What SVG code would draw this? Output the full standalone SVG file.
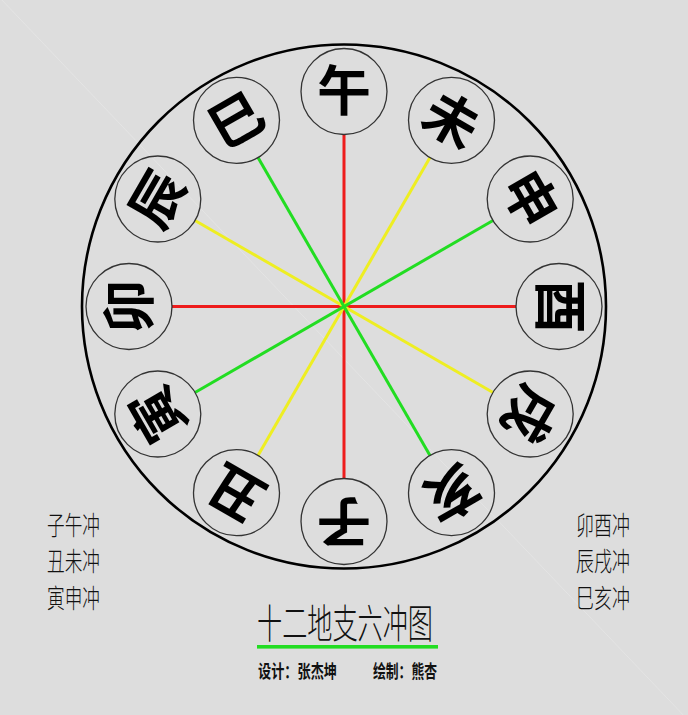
<svg xmlns="http://www.w3.org/2000/svg" width="688" height="715" viewBox="0 0 688 715">
<style>
.bg{fill:#dddddd}
.ring{fill:none;stroke:#000;stroke-width:2.6}
.node circle{fill:none;stroke:#333;stroke-width:1.3}
.node text{font-family:"Noto Sans CJK SC","Noto Sans CJK JP",sans-serif;font-size:54px;font-weight:700;fill:#000;text-anchor:middle;dominant-baseline:central}
.conn line{stroke-width:3;stroke-linecap:butt}
.red{stroke:#ee1c1c}
.yel{stroke:#eeee22}
.grn{stroke:#22dd22}
.lbl{font-family:"Noto Sans CJK SC","Noto Sans CJK JP",sans-serif;font-size:26px;font-weight:300;fill:#111;dominant-baseline:central}
.title{font-family:"Noto Sans CJK SC","Noto Sans CJK JP",sans-serif;font-size:40px;font-weight:300;fill:#111;dominant-baseline:central}
.sub{font-family:"Noto Sans CJK SC","Noto Sans CJK JP",sans-serif;font-size:18px;font-weight:700;fill:#111;dominant-baseline:central}
</style>
<rect class="bg" x="0" y="0" width="688" height="715"/>
<line x1="0" y1="-2" x2="688" y2="720" stroke="#ffffff" stroke-opacity="0.35" stroke-width="0.6"/>
<circle class="ring" cx="344" cy="306.5" r="262"/>
<g id="connectors" class="conn">
<line class="red" x1="344" y1="134.5" x2="344" y2="478.5"/>
<line class="red" x1="516" y1="306.5" x2="172" y2="306.5"/>
<line class="yel" x1="430" y1="157.5" x2="258" y2="455.5"/>
<line class="yel" x1="493" y1="392.5" x2="195" y2="220.5"/>
<line class="grn" x1="493" y1="220.5" x2="195" y2="392.5"/>
<line class="grn" x1="430" y1="455.5" x2="258" y2="157.5"/>
</g>
<g id="node-wu" class="node"><circle cx="344" cy="91.5" r="43"/><text transform="translate(344 306.5) rotate(0) translate(0 -219)">午</text></g>
<g id="node-wei" class="node"><circle cx="451.5" cy="120.3" r="43"/><text transform="translate(344 306.5) rotate(30) translate(0 -219)">未</text></g>
<g id="node-shen" class="node"><circle cx="530.2" cy="199" r="43"/><text transform="translate(344 306.5) rotate(60) translate(0 -219)">申</text></g>
<g id="node-you" class="node"><circle cx="559" cy="306.5" r="43"/><text transform="translate(344 306.5) rotate(90) translate(0 -219)">酉</text></g>
<g id="node-xu" class="node"><circle cx="530.2" cy="414" r="43"/><text transform="translate(344 306.5) rotate(120) translate(0 -219)">戌</text></g>
<g id="node-hai" class="node"><circle cx="451.5" cy="492.7" r="43"/><text transform="translate(344 306.5) rotate(150) translate(0 -219)">亥</text></g>
<g id="node-zi" class="node"><circle cx="344" cy="521.5" r="43"/><text transform="translate(344 306.5) rotate(180) translate(0 -219)">子</text></g>
<g id="node-chou" class="node"><circle cx="236.5" cy="492.7" r="43"/><text transform="translate(344 306.5) rotate(210) translate(0 -219)">丑</text></g>
<g id="node-yin" class="node"><circle cx="157.8" cy="414" r="43"/><text transform="translate(344 306.5) rotate(240) translate(0 -219)">寅</text></g>
<g id="node-mao" class="node"><circle cx="129" cy="306.5" r="43"/><text transform="translate(344 306.5) rotate(270) translate(0 -219)">卯</text></g>
<g id="node-chen" class="node"><circle cx="157.8" cy="199" r="43"/><text transform="translate(344 306.5) rotate(300) translate(0 -219)">辰</text></g>
<g id="node-si" class="node"><circle cx="236.5" cy="120.3" r="43"/><text transform="translate(344 306.5) rotate(330) translate(0 -219)">巳</text></g>
<g id="legend-left">
<text class="lbl" x="47" y="523.5" textLength="53" lengthAdjust="spacingAndGlyphs">子午冲</text>
<text class="lbl" x="47" y="559.5" textLength="53" lengthAdjust="spacingAndGlyphs">丑未冲</text>
<text class="lbl" x="47" y="596" textLength="53" lengthAdjust="spacingAndGlyphs">寅申冲</text>
</g>
<g id="legend-right">
<text class="lbl" x="576" y="523.5" textLength="54" lengthAdjust="spacingAndGlyphs">卯酉冲</text>
<text class="lbl" x="576" y="559.5" textLength="54" lengthAdjust="spacingAndGlyphs">辰戌冲</text>
<text class="lbl" x="576" y="596" textLength="54" lengthAdjust="spacingAndGlyphs">巳亥冲</text>
</g>
<g id="title">
<text class="title" x="257" y="621" textLength="176" lengthAdjust="spacingAndGlyphs">十二地支六冲图</text>
<rect x="257" y="645" width="181" height="3.6" fill="#22dd22"/>
<text class="sub" x="258" y="670" textLength="79" lengthAdjust="spacingAndGlyphs">设计：张杰坤</text>
<text class="sub" x="373" y="670" textLength="64" lengthAdjust="spacingAndGlyphs">绘制：熊杏</text>
</g>
</svg>
